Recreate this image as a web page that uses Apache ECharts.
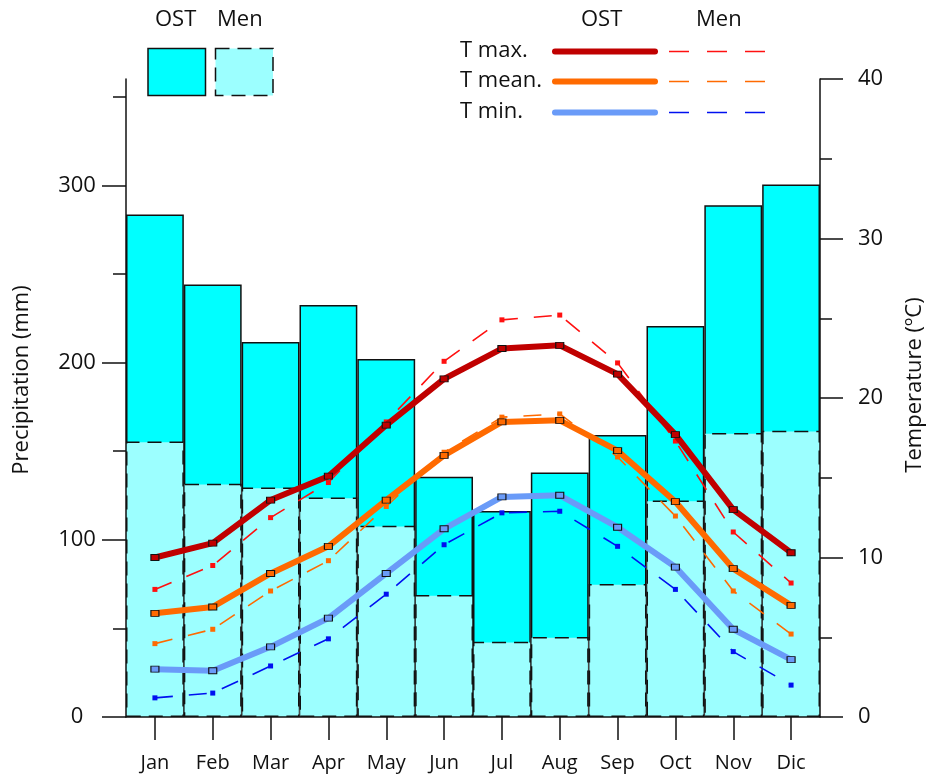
<!DOCTYPE html>
<html><head><meta charset="utf-8">
<script src="https://cdn.jsdelivr.net/npm/echarts@6/dist/echarts.min.js"></script>
<style>html,body{margin:0;padding:0;background:#fff}#c{width:928px;height:778px}</style>
</head><body><div id="c"></div>
<script>
// ---- data ----
const months = ['Jan','Feb','Mar','Apr','May','Jun','Jul','Aug','Sep','Oct','Nov','Dic'];
const precipOST = [283.5, 244, 211.6, 232.5, 202, 135.5, 116.3, 137.9, 159.1, 220.6, 288.7, 300.5];
const precipMen = [155.5, 131.6, 129.5, 123.8, 107.9, 68.9, 42.4, 45.2, 75.1, 122.1, 160.2, 161.5];
const tmaxOST  = [10.0, 10.9, 13.6, 15.1, 18.3, 21.2, 23.1, 23.3, 21.5, 17.7, 13.0, 10.3];
const tmaxMen  = [8.0, 9.5, 12.5, 14.7, 18.5, 22.3, 24.9, 25.2, 22.2, 17.3, 11.6, 8.4];
const tmeanOST = [6.5, 6.9, 9.0, 10.7, 13.6, 16.4, 18.5, 18.6, 16.7, 13.5, 9.3, 7.0];
const tmeanMen = [4.6, 5.5, 7.9, 9.8, 13.2, 16.6, 18.8, 19.0, 16.3, 12.6, 7.9, 5.2];
const tminOST  = [3.0, 2.9, 4.4, 6.2, 9.0, 11.8, 13.8, 13.9, 11.9, 9.4, 5.5, 3.6];
const tminMen  = [1.2, 1.5, 3.2, 4.9, 7.7, 10.8, 12.8, 12.9, 10.7, 8.0, 4.1, 2.0];
const precipLabels = [0, 100, 200, 300];
const precipMinor = [50, 150, 250, 350];
const legendRows = ['T max.', 'T mean.', 'T min.'];

const FONT = 'Open Sans';
const INK = '#111';
const cOST = '#00FFFF', cMen = '#9CFFFF';
const colMaxO = '#C00000', colMaxM = '#FF1010';
const colMeanO = '#FF6A00', colMeanM = '#FF6A00';
const colMinO = '#6A9BF8', colMinM = '#0010F0';
const MEN_DASH = [18, 16];
const BAR_DASH = [14, 8];

function ostLine(name, data, color) {
  return {
    type: 'line', name, data, yAxisIndex: 1, z: 4,
    symbol: 'rect', symbolSize: [8, 6], showSymbol: true,
    lineStyle: { color, width: 6, cap: 'round', join: 'round' },
    itemStyle: { color, borderColor: '#111', borderWidth: 1 },
    emphasis: { disabled: true }, animation: false
  };
}
function menLine(name, data, color) {
  return {
    type: 'line', name, data, yAxisIndex: 1, z: 3,
    symbol: 'rect', symbolSize: 5, showSymbol: true,
    lineStyle: { color, width: 1.6, type: MEN_DASH },
    itemStyle: { color },
    emphasis: { disabled: true }, animation: false
  };
}

const legendColors = [[colMaxO, colMaxM], [colMeanO, colMeanM], [colMinO, colMinM]];
const rowY = [51, 81, 112];
const graphics = [
  { type: 'text', left: 155, top: 9, style: { text: 'OST', font: '22px "Open Sans"', fill: INK } },
  { type: 'text', left: 217, top: 9, style: { text: 'Men', font: '22px "Open Sans"', fill: INK } },
  { type: 'rect', shape: { x: 148, y: 48.5, width: 57.5, height: 47 }, style: { fill: cOST, stroke: '#111', lineWidth: 1.5 } },
  { type: 'rect', shape: { x: 215.5, y: 48.5, width: 57.5, height: 47 }, style: { fill: cMen, stroke: '#111', lineWidth: 1.5, lineDash: [14, 8] } },
  { type: 'text', left: 581, top: 9, style: { text: 'OST', font: '22px "Open Sans"', fill: INK } },
  { type: 'text', left: 696, top: 9, style: { text: 'Men', font: '22px "Open Sans"', fill: INK } },
  { type: 'text', x: 22, y: 380, rotation: Math.PI / 2, style: { text: 'Precipitation (mm)', font: '22px "Open Sans"', fill: INK, align: 'center', verticalAlign: 'middle' } },
  { type: 'text', x: 915, y: 385, rotation: Math.PI / 2, style: { text: 'Temperature (ºC)', font: '22px "Open Sans"', fill: INK, align: 'center', verticalAlign: 'middle' } }
];
legendRows.forEach((t, i) => {
  graphics.push({ type: 'text', x: 460, y: rowY[i], style: { text: t, font: '22px "Open Sans"', fill: INK, align: 'left', verticalAlign: 'middle' } });
  graphics.push({ type: 'line', shape: { x1: 555, y1: rowY[i] + 0.5, x2: 655, y2: rowY[i] + 0.5 }, style: { stroke: legendColors[i][0], lineWidth: 6, lineCap: 'round' } });
  graphics.push({ type: 'line', shape: { x1: 669, y1: rowY[i] + 0.5, x2: 767, y2: rowY[i] + 0.5 }, style: { stroke: legendColors[i][1], lineWidth: 1.6, lineDash: [20, 18] } });
});

const chart = echarts.init(document.getElementById('c'), null, { renderer: 'canvas' });
chart.setOption({
  animation: false,
  backgroundColor: '#fff',
  textStyle: { fontFamily: FONT },
  grid: { left: 126, right: 108, top: 79, bottom: 61, containLabel: false },
  graphic: graphics,
  xAxis: {
    type: 'category', data: months, boundaryGap: true,
    axisLine: { show: true, lineStyle: { color: '#111', width: 1.5 } },
    axisTick: { show: true, alignWithLabel: true, length: 23, lineStyle: { color: '#111', width: 1.5 } },
    axisLabel: { margin: 36, fontSize: 20, color: INK, fontFamily: FONT },
    splitLine: { show: false }
  },
  yAxis: [
    {
      type: 'value', position: 'left', min: 0, max: 360,
      axisLine: { show: true, lineStyle: { color: '#111', width: 1.5 } },
      axisTick: { show: true, length: 24, customValues: precipLabels, lineStyle: { color: '#111', width: 1.5 } },
      axisLabel: { customValues: precipLabels, margin: 49, align: 'center', fontSize: 22, color: INK, fontFamily: FONT },
      splitLine: { show: false }
    },
    {
      type: 'value', position: 'right', min: 0, max: 40, interval: 10,
      axisLine: { show: true, lineStyle: { color: '#111', width: 1.5 } },
      axisTick: { show: true, length: 23, lineStyle: { color: '#111', width: 1.5 } },
      minorTick: { show: true, splitNumber: 2, length: 12, lineStyle: { color: '#111', width: 1.5 } },
      axisLabel: { margin: 38, fontSize: 22, color: INK, fontFamily: FONT },
      splitLine: { show: false }, minorSplitLine: { show: false }
    },
    {
      type: 'value', position: 'left', min: 0, max: 360,
      axisLine: { show: false },
      axisTick: { show: true, length: 13, customValues: precipMinor, lineStyle: { color: '#111', width: 1.5 } },
      axisLabel: { show: false },
      splitLine: { show: false }
    }
  ],
  series: [
    {
      type: 'bar', name: 'OST', data: precipOST, yAxisIndex: 0, barCategoryGap: 0, barGap: '-100%', z: 1,
      itemStyle: { color: cOST, borderColor: '#111', borderWidth: 1.5 },
      emphasis: { disabled: true }
    },
    {
      type: 'bar', name: 'Men', data: precipMen, yAxisIndex: 0, barCategoryGap: 0, barGap: '-100%', z: 2,
      itemStyle: { color: cMen, borderColor: '#111', borderWidth: 1.5, borderType: BAR_DASH },
      emphasis: { disabled: true }
    },
    menLine('T max. Men', tmaxMen, colMaxM),
    menLine('T mean. Men', tmeanMen, colMeanM),
    menLine('T min. Men', tminMen, colMinM),
    ostLine('T max. OST', tmaxOST, colMaxO),
    ostLine('T mean. OST', tmeanOST, colMeanO),
    ostLine('T min. OST', tminOST, colMinO)
  ]
});
</script>
</body></html>
